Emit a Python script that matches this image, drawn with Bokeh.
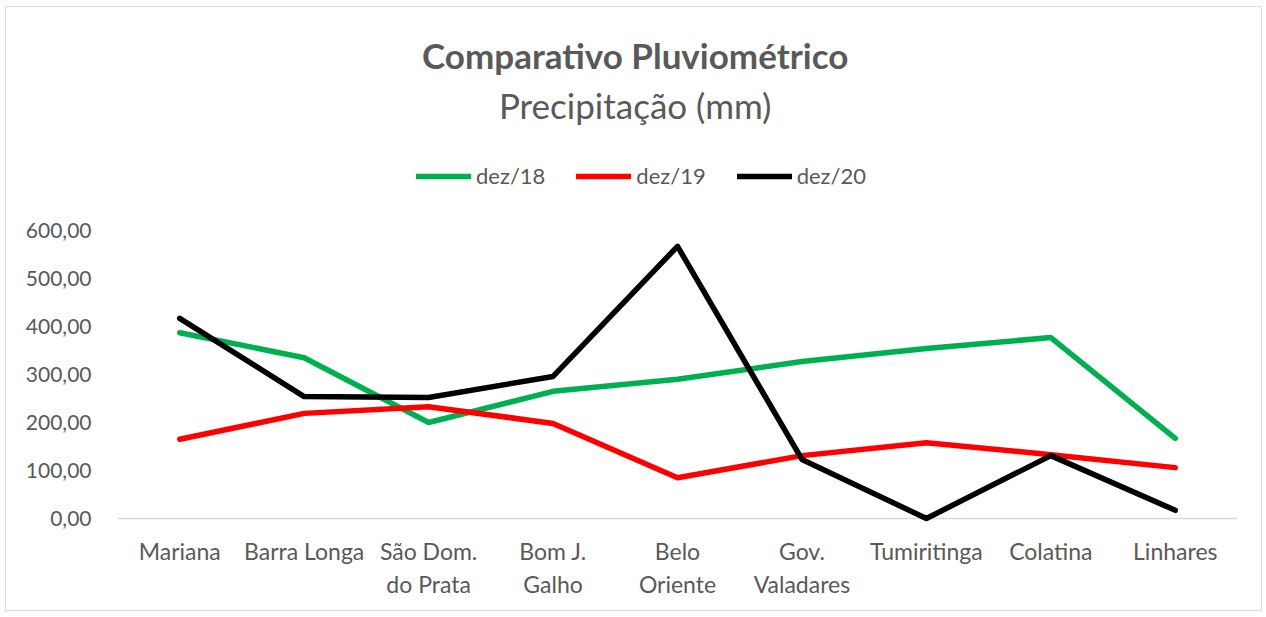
from bokeh.plotting import figure
from bokeh.models import (FactorRange, Range1d, Span, Legend, LegendItem, Label,
                          FixedTicker, CustomJSTickFormatter)
from bokeh.embed import file_html
from bokeh.resources import INLINE

categories = ["Mariana", "Barra Longa", "São Dom.\ndo Prata", "Bom J.\nGalho",
              "Belo\nOriente", "Gov.\nValadares", "Tumiritinga", "Colatina", "Linhares"]
dez18 = [387, 335, 200, 265, 290, 327, 354, 377, 167]
dez19 = [165, 219, 233, 198, 85, 131, 158, 133, 106]
dez20 = [417, 254, 252, 296, 567, 123, 0, 131, 17]
y_ticks = [0, 100, 200, 300, 400, 500, 600]

FONT = "Lato"
TXT = "#595959"

p = figure(width=1257, height=605, output_backend="svg", toolbar_location=None,
           x_range=FactorRange(factors=categories, range_padding=0),
           y_range=Range1d(-14.6, 1064.6),
           min_border_left=111, min_border_right=26, min_border_top=0, min_border_bottom=87)
p.styles = {"border": "1px solid #D9D9D9"}
p.margin = (6, 0, 0, 5)
p.outline_line_color = None
p.grid.visible = False
p.background_fill_color = "white"
p.border_fill_color = "white"

r1 = p.line(categories, dez18, line_color="#00B050", line_width=5.5, line_cap="round", line_join="round")
r2 = p.line(categories, dez19, line_color="#FF0000", line_width=5.5, line_cap="round", line_join="round")
r3 = p.line(categories, dez20, line_color="#000000", line_width=5.5, line_cap="round", line_join="round")

p.add_layout(Span(location=0, dimension="width", line_color="#D9D9D9", line_width=1.5, level="underlay"))

# axes
p.yaxis.ticker = FixedTicker(ticks=y_ticks)
p.yaxis.formatter = CustomJSTickFormatter(code="return tick.toFixed(2).replace('.', ',');")
for ax in (p.xaxis[0], p.yaxis[0]):
    ax.axis_line_color = None
    ax.major_tick_line_color = None
    ax.minor_tick_line_color = None
    ax.major_label_text_font = FONT
    ax.major_label_text_color = TXT
p.yaxis.major_label_text_font_size = "21px"
p.xaxis.major_label_text_font_size = "23px"
p.yaxis.major_label_standoff = 20
p.xaxis.major_label_standoff = 5
p.xaxis.major_label_text_line_height = 1.2

legend = Legend(items=[LegendItem(label="dez/18", renderers=[r1]),
                       LegendItem(label="dez/19", renderers=[r2]),
                       LegendItem(label="dez/20", renderers=[r3])],
                orientation="horizontal", location=(299, 336),
                border_line_color=None, background_fill_alpha=0,
                padding=0, margin=0, glyph_width=55, glyph_height=20,
                label_standoff=5, spacing=31,
                label_text_font=FONT, label_text_font_size="22px", label_text_color=TXT)
p.add_layout(legend, "center")

p.add_layout(Label(x=4.16, y=966, text="Comparativo Pluviométrico", text_align="center",
                   text_baseline="middle", text_font=FONT, text_font_size="35px",
                   text_font_style="bold", text_color=TXT))
p.add_layout(Label(x=4.16, y=862, text="Precipitação (mm)", text_align="center",
                   text_baseline="middle", text_font=FONT, text_font_size="35px",
                   text_color=TXT))

open("out.html", "w").write(file_html(p, INLINE))
